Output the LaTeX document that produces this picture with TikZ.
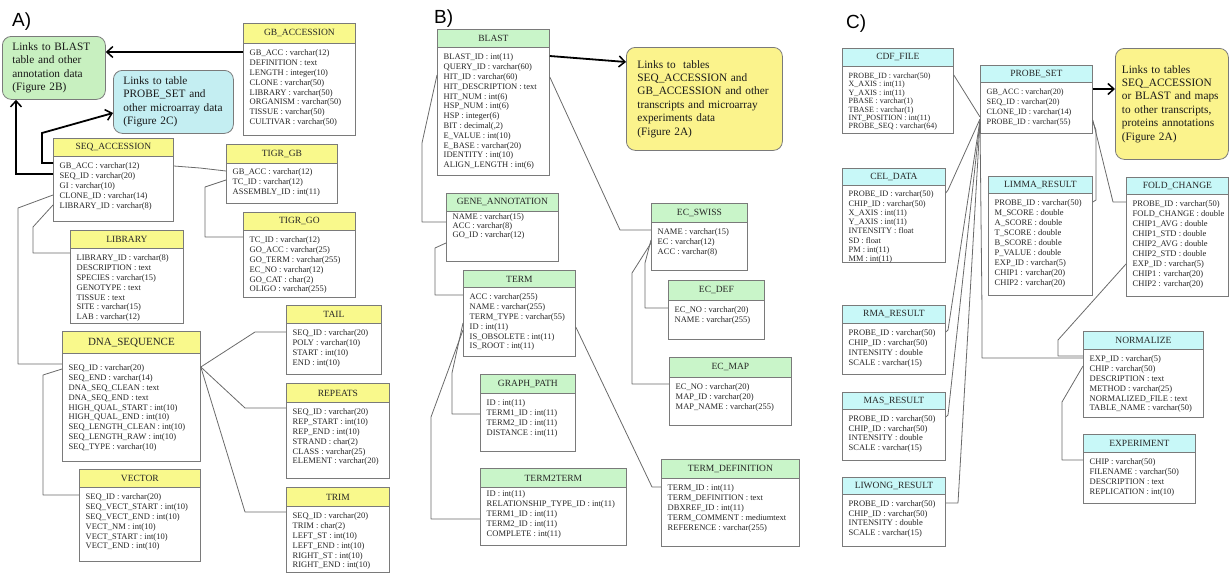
\documentclass[tikz,border=0pt]{standalone}
\usepackage{fontspec}
\setmainfont{Liberation Serif}
\newfontfamily\labelfont{Liberation Sans}
\usetikzlibrary{calc,arrows.meta}
\definecolor{bordergray}{HTML}{7A7A7A}
\definecolor{linkgray}{HTML}{6A6A6A}
\definecolor{hdryellow}{HTML}{F9F98C}
\definecolor{hdrgreen}{HTML}{C9F5C9}
\definecolor{hdrcyan}{HTML}{C8F8F8}
\definecolor{callgreen}{HTML}{C8F0C0}
\definecolor{callcyan}{HTML}{C4EEF2}
\definecolor{callyellow}{HTML}{FBF38C}
\tikzset{
  tblbox/.style={draw=bordergray, fill=white, line width=0.8pt, inner sep=0pt},
  hdrbase/.style={draw=bordergray, line width=0.8pt, inner sep=0pt, minimum height=19pt, text=black!85, font=\fontsize{9.5}{11}\selectfont},
  hdrA/.style={hdrbase, fill=hdryellow},
  hdrB/.style={hdrbase, fill=hdrgreen},
  hdrC/.style={hdrbase, fill=hdrcyan, minimum height=17.5pt},
  rows/.style={inner sep=0pt, align=left, text=black!85, font=\fontsize{8.5}{9.8}\selectfont},
  link/.style={draw=linkgray, line width=0.8pt, line join=round},
  bigarrow/.style={draw=black, line width=1.8pt, line join=miter, -{Straight Barb[length=6pt,width=11pt,line width=1.5pt]}},
  callout/.style={draw=bordergray, line width=0.8pt, rounded corners=9pt, align=left, anchor=north west, inner ysep=0pt, text=black!90, font=\fontsize{11.3}{13.4}\selectfont},
  paneltag/.style={font=\labelfont\fontsize{19}{22}\selectfont, anchor=base west, inner sep=0pt},
}
% name, x, y, width, height, header style, rows style, title, rows
\newcommand{\dbtable}[9]{%
  \node[tblbox, minimum width=#4pt, minimum height=#5pt, anchor=north west] (#1) at (#2,#3) {};
  \node[#6, minimum width=#4pt, anchor=north west] (#1-h) at (#2,#3) {#8};
  \node[rows, #7, anchor=north west] (#1-r) at ($(#1-h.south west)+(6.5,6)$) {#9};
}
\begin{document}
\begin{tikzpicture}[x=1pt, y=-1pt]
\useasboundingbox (0,0) rectangle (1229,573);

% ---------------- panel tags ----------------
\node[paneltag] (tagA) at (12,26) {A)};
\node[paneltag] (tagB) at (434,23.5) {B)};
\node[paneltag] (tagC) at (846,28) {C)};

% ---------------- callouts ----------------
\node[callout, fill=callgreen, text width=83pt, inner xsep=10pt, minimum height=63pt] (greencall) at (2,36)
  {Links to BLAST\\table and other\\annotation data\\(Figure 2B)};
\node[callout, fill=callcyan, text width=100pt, inner xsep=10pt, minimum height=63pt] (cyancall) at (113,70)
  {Links to table\\PROBE\_SET and\\other microarray data\\(Figure 2C)};
\node[callout, fill=callyellow, text width=134pt, inner xsep=11pt, minimum height=103pt] (yellowB) at (626,47)
  {Links to\ \ tables\\SEQ\_ACCESSION and\\GB\_ACCESSION and other\\transcripts and microarray\\experiments data\\(Figure 2A)};
\node[callout, fill=callyellow, text width=100pt, inner xsep=6.5pt, minimum height=111pt] (yellowC) at (1115,48)
  {Links to tables\\SEQ\_ACCESSION\\or BLAST and maps\\to other transcripts,\\proteins annotations\\(Figure 2A)};

% ---------------- panel A tables ----------------
\dbtable{gbacc}{243}{23}{112}{112}{hdrA, minimum height=20pt}{}{GB\_ACCESSION}
  {GB\_ACC : varchar(12)\\DEFINITION : text\\LENGTH : integer(10)\\CLONE : varchar(50)\\LIBRARY : varchar(50)\\ORGANISM : varchar(50)\\TISSUE : varchar(50)\\CULTIVAR : varchar(50)}
\dbtable{seqacc}{53}{138}{120}{83}{hdrA, minimum height=18pt}{}{SEQ\_ACCESSION}
  {GB\_ACC : varchar(12)\\SEQ\_ID : varchar(20)\\GI : varchar(10)\\CLONE\_ID : varchar(14)\\LIBRARY\_ID : varchar(8)}
\dbtable{tigrgb}{226}{144}{111}{59}{hdrA}{yshift=1pt}{TIGR\_GB}
  {GB\_ACC : varchar(12)\\TC\_ID : varchar(12)\\ASSEMBLY\_ID : int(11)}
\dbtable{tigrgo}{243}{212}{112}{85}{hdrA, minimum height=18pt}{}{TIGR\_GO}
  {TC\_ID : varchar(12)\\GO\_ACC : varchar(25)\\GO\_TERM : varchar(255)\\EC\_NO : varchar(12)\\GO\_CAT : char(2)\\OLIGO : varchar(255)}
\dbtable{library}{70}{230}{113}{93}{hdrA, minimum height=18pt}{}{LIBRARY}
  {LIBRARY\_ID : varchar(8)\\DESCRIPTION : text\\SPECIES : varchar(15)\\GENOTYPE : text\\TISSUE : text\\SITE : varchar(15)\\LAB : varchar(12)}
\dbtable{dnaseq}{62}{331}{138}{130}{hdrA, minimum height=22pt, font=\fontsize{11}{13}\selectfont}{yshift=-5pt}{DNA\_SEQUENCE}
  {SEQ\_ID : varchar(20)\\SEQ\_END : varchar(14)\\DNA\_SEQ\_CLEAN : text\\DNA\_SEQ\_END : text\\HIGH\_QUAL\_START : int(10)\\HIGH\_QUAL\_END : int(10)\\SEQ\_LENGTH\_CLEAN : int(10)\\SEQ\_LENGTH\_RAW : int(10)\\SEQ\_TYPE : varchar(10)}
\dbtable{vector}{79}{469}{121}{92}{hdrA, minimum height=18pt}{}{VECTOR}
  {SEQ\_ID : varchar(20)\\SEQ\_VECT\_START : int(10)\\SEQ\_VECT\_END : int(10)\\VECT\_NM : int(10)\\VECT\_START : int(10)\\VECT\_END : int(10)}
\dbtable{tail}{286}{305}{95}{69}{hdrA, minimum height=18pt}{}{TAIL}
  {SEQ\_ID : varchar(20)\\POLY : varchar(10)\\START : int(10)\\END : int(10)}
\dbtable{repeats}{286}{383}{103}{95}{hdrA}{}{REPEATS}
  {SEQ\_ID : varchar(20)\\REP\_START : int(10)\\REP\_END : int(10)\\STRAND : char(2)\\CLASS : varchar(25)\\ELEMENT : varchar(20)}
\dbtable{trim}{286}{487}{103}{85}{hdrA}{}{TRIM}
  {SEQ\_ID : varchar(20)\\TRIM : char(2)\\LEFT\_ST : int(10)\\LEFT\_END : int(10)\\RIGHT\_ST : int(10)\\RIGHT\_END : int(10)}

% ---------------- panel B tables ----------------
\dbtable{blast}{437}{29}{112}{146}{hdrB, minimum height=18pt}{}{BLAST}
  {BLAST\_ID : int(11)\\QUERY\_ID : varchar(60)\\HIT\_ID : varchar(60)\\HIT\_DESCRIPTION : text\\HIT\_NUM : int(6)\\HSP\_NUM : int(6)\\HSP : integer(6)\\BIT : decimal(,2)\\E\_VALUE : int(10)\\E\_BASE : varchar(20)\\IDENTITY : int(10)\\ALIGN\_LENGTH : int(6)}
\dbtable{geneann}{446}{193}{112}{68}{hdrB, minimum height=18pt}{yshift=4pt, font=\fontsize{8.5}{9}\selectfont}{GENE\_ANNOTATION}
  {NAME : varchar(15)\\ACC : varchar(8)\\GO\_ID : varchar(12)}
\dbtable{term}{463}{270}{112}{86}{hdrB, minimum height=17pt}{}{TERM}
  {ACC : varchar(255)\\NAME : varchar(255)\\TERM\_TYPE : varchar(55)\\ID : int(11)\\IS\_OBSOLETE : int(11)\\IS\_ROOT : int(11)}
\dbtable{graphpath}{480}{374}{95}{77}{hdrB}{}{GRAPH\_PATH}
  {ID : int(11)\\TERM1\_ID : int(11)\\TERM2\_ID : int(11)\\DISTANCE : int(11)}
\dbtable{term2term}{480}{468}{146}{77}{hdrB}{yshift=3pt}{TERM2TERM}
  {ID : int(11)\\RELATIONSHIP\_TYPE\_ID : int(11)\\TERM1\_ID : int(11)\\TERM2\_ID : int(11)\\COMPLETE : int(11)}
\dbtable{ecswiss}{651}{203}{96}{67}{hdrB}{}{EC\_SWISS}
  {NAME : varchar(15)\\EC : varchar(12)\\ACC : varchar(8)}
\dbtable{ecdef}{668}{280}{96}{59}{hdrB, minimum height=20pt}{}{EC\_DEF}
  {EC\_NO : varchar(20)\\NAME : varchar(255)}
\dbtable{ecmap}{669}{357}{122}{68}{hdrB, minimum height=20pt}{}{EC\_MAP}
  {EC\_NO : varchar(20)\\MAP\_ID : varchar(20)\\MAP\_NAME : varchar(255)}
\dbtable{termdef}{661}{459}{138}{87}{hdrB}{}{TERM\_DEFINITION}
  {TERM\_ID : int(11)\\TERM\_DEFINITION : text\\DBXREF\_ID : int(11)\\TERM\_COMMENT : mediumtext\\REFERENCE : varchar(255)}

% ---------------- panel C tables ----------------
\dbtable{cdffile}{842}{48}{111}{85}{hdrC, minimum height=18pt}{font=\fontsize{8}{8.4}\selectfont}{CDF\_FILE}
  {PROBE\_ID : varchar(50)\\X\_AXIS : int(11)\\Y\_AXIS : int(11)\\PBASE : varchar(1)\\TBASE : varchar(1)\\INT\_POSITION : int(11)\\PROBE\_SEQ : varchar(64)}
\dbtable{celdata}{842}{168}{103}{94}{hdrC, minimum height=17pt}{yshift=1pt, font=\fontsize{8.3}{9.3}\selectfont}{CEL\_DATA}
  {PROBE\_ID : varchar(50)\\CHIP\_ID : varchar(50)\\X\_AXIS : int(11)\\Y\_AXIS : int(11)\\INTENSITY : float\\SD : float\\PM : int(11)\\MM : int(11)}
\dbtable{probeset}{980}{65}{112}{68}{hdrC, minimum height=17pt}{font=\fontsize{8.2}{10}\selectfont}{PROBE\_SET}
  {GB\_ACC : varchar(20)\\SEQ\_ID : varchar(20)\\CLONE\_ID : varchar(14)\\PROBE\_ID : varchar(55)}
\dbtable{limma}{988}{176}{104}{119}{hdrC, minimum height=17pt}{font=\fontsize{8.5}{10}\selectfont}{LIMMA\_RESULT}
  {PROBE\_ID : varchar(50)\\M\_SCORE : double\\A\_SCORE : double\\T\_SCORE : double\\B\_SCORE : double\\P\_VALUE : double\\EXP\_ID : varchar(5)\\CHIP1 : varchar(20)\\CHIP2 : varchar(20)}
\dbtable{foldchange}{1126}{177}{102}{119}{hdrC, minimum height=17pt}{font=\fontsize{8.5}{10}\selectfont}{FOLD\_CHANGE}
  {PROBE\_ID : varchar(50)\\FOLD\_CHANGE : double\\CHIP1\_AVG : double\\CHIP1\_STD : double\\CHIP2\_AVG : double\\CHIP2\_STD : double\\EXP\_ID : varchar(5)\\CHIP1 : varchar(20)\\CHIP2 : varchar(20)}
\dbtable{rma}{842}{305}{103}{69}{hdrC, minimum height=18pt}{font=\fontsize{8.5}{9.7}\selectfont}{RMA\_RESULT}
  {PROBE\_ID : varchar(50)\\CHIP\_ID : varchar(50)\\INTENSITY : double\\SCALE : varchar(15)}
\dbtable{mas}{842}{392}{103}{68}{hdrC, minimum height=16.5pt}{font=\fontsize{8.5}{9.7}\selectfont}{MAS\_RESULT}
  {PROBE\_ID : varchar(50)\\CHIP\_ID : varchar(50)\\INTENSITY : double\\SCALE : varchar(15)}
\dbtable{liwong}{842}{477}{103}{69}{hdrC, minimum height=16.5pt}{font=\fontsize{8.5}{9.7}\selectfont}{LIWONG\_RESULT}
  {PROBE\_ID : varchar(50)\\CHIP\_ID : varchar(50)\\INTENSITY : double\\SCALE : varchar(15)}
\dbtable{normalize}{1083}{331}{120}{86}{hdrC, minimum height=18pt}{}{NORMALIZE}
  {EXP\_ID : varchar(5)\\CHIP : varchar(50)\\DESCRIPTION : text\\METHOD : varchar(25)\\NORMALIZED\_FILE : text\\TABLE\_NAME : varchar(50)}
\dbtable{experiment}{1083}{434}{112}{69}{hdrC, minimum height=18pt}{font=\fontsize{8.5}{10}\selectfont}{EXPERIMENT}
  {CHIP : varchar(50)\\FILENAME : varchar(50)\\DESCRIPTION : text\\REPLICATION : int(10)}

% ---------------- panel A connectors ----------------
\draw[link] (seqacc.east |- 0,166) -- (200,168) -- (tigrgb.west |- 0,171);
\draw[link] (tigrgb.west |- 0,180) -- (205,187) -- (205,237) -- (tigrgo.west |- 0,237);
\draw[link] (seqacc.west |- 0,205) -- (33,227) -- (33,253) -- (library.west |- 0,253);
\draw[link] (seqacc.west |- 0,195) -- (18,208) -- (18,364) -- (dnaseq.west |- 0,364);
\draw[link] (dnaseq.west |- 0,369) -- (43,375) -- (43,495) -- (vector.west |- 0,495);
\draw[link] (dnaseq.east |- 0,367) -- (255,332) -- (tail.west |- 0,332);
\draw[link] (dnaseq.east |- 0,367) -- (245,408) -- (repeats.west |- 0,408);
\draw[link] (dnaseq.east |- 0,367) -- (245,512) -- (trim.west |- 0,512);
\draw[bigarrow] (gbacc.west |- 0,52) -- (greencall.east |- 0,52);
\draw[bigarrow] (seqacc.west |- 0,163) -- (42,163) -- (42,133) -- (cyancall.west |- 0,113);
\draw[bigarrow] (seqacc.west |- 0,174) -- (16,174) -- (greencall.south -| 16,0);

% ---------------- panel B connectors ----------------
\draw[bigarrow] (blast.east |- 0,56) -- (yellowB.west |- 0,62);
\draw[link] (blast.west |- 0,75) -- (422,143) -- (422,222) -- (geneann.west |- 0,222);
\draw[link] (geneann.west |- 0,243) -- (435,248) -- (435,295) -- (term.west |- 0,295);
\draw[link] (term.west |- 0,323) -- (452,373) -- (452,414) -- (graphpath.west |- 0,414);
\draw[link] (term.west |- 0,330) -- (431,417) -- (431,519) -- (term2term.west |- 0,519);
\draw[link] (blast.east |- 0,77) -- (620,230) -- (ecswiss.west |- 0,230);
\draw[link] (ecswiss.west |- 0,240) -- (645,263) -- (645,308) -- (ecdef.west |- 0,308);
\draw[link] (ecswiss.west |- 0,243) -- (632,273) -- (632,384) -- (ecmap.west |- 0,384);
\draw[link] (term.east |- 0,327) -- (652,487) -- (termdef.west |- 0,487);

% ---------------- panel C connectors ----------------
\draw[bigarrow] (probeset.east |- 0,89) -- (yellowC.west |- 0,89);
\draw[link] (cdffile.east |- 0,75) -- (probeset.west |- 0,117);
\draw[link] (celdata.east |- 0,193) -- (948,190) -- (probeset.west |- 0,119);
\draw[link] (rma.east |- 0,332) -- (948,330) -- (probeset.west |- 0,120);
\draw[link] (mas.east |- 0,417) -- (948,415) -- (probeset.west |- 0,121);
\draw[link] (liwong.east |- 0,503) -- (958,503) -- (probeset.west |- 0,122);
\draw[link] (probeset.west |- 0,123) -- (982,310) -- (982,358) -- (normalize.west |- 0,358);
\draw[link] (probeset.east |- 0,122) -- (1096,130) -- (1096,200) -- (limma.east |- 0,202);
\draw[link] (probeset.east |- 0,120) -- (1113,202) -- (foldchange.west |- 0,202);
\draw[link] (foldchange.west |- 0,264) -- (1058,340) -- (1058,356) -- (normalize.west |- 0,356);
\draw[link] (normalize.west |- 0,366) -- (1062,402) -- (1062,460) -- (experiment.west |- 0,460);
\end{tikzpicture}
\end{document}
